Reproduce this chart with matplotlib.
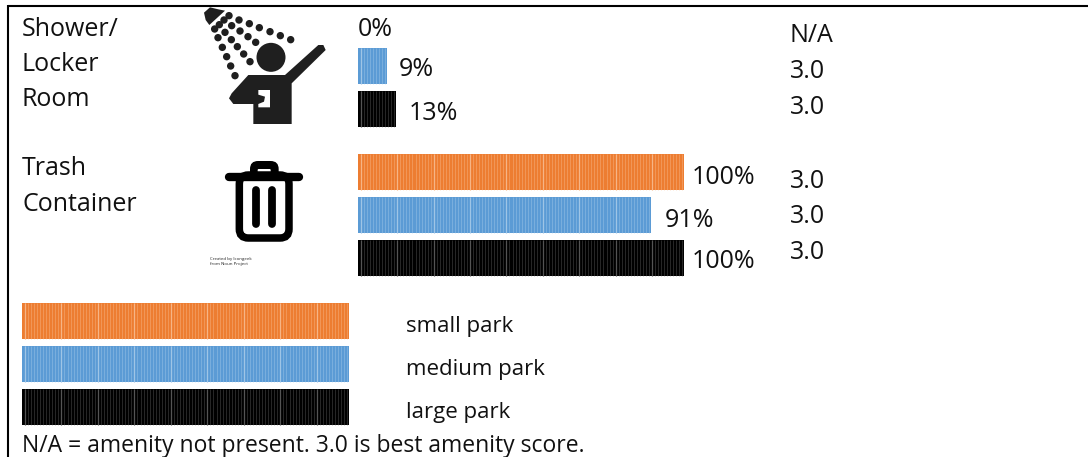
import numpy as np
import matplotlib
matplotlib.use("Agg")
import matplotlib.pyplot as plt
from matplotlib.patches import Circle, Polygon, FancyBboxPatch

plt.rcParams['font.family'] = ['Open Sans', 'DejaVu Sans']

# ---------- data ----------
amenities = ["Shower/\nLocker\nRoom", "Trash\nContainer"]
park_sizes = ["small park", "medium park", "large park"]
shower_lengths = [0, 8.9, 11.7]
trash_lengths = [100, 90, 100]
shower_labels = ["0%", "9%", "13%"]
trash_labels = ["100%", "91%", "100%"]
shower_scores = ["N/A", "3.0", "3.0"]
trash_scores = ["3.0", "3.0", "3.0"]
legend_lengths = [100, 100, 100]
footnote = "N/A = amenity not present. 3.0 is best amenity score."

colors = ["#ED7D31", "#5B9BD5", "#000000"]
stripe_colors = ["#F7B98C", "#A4C8E8", "#5A5A5A"]

W, H = 1088, 457
fig = plt.figure(figsize=(W / 100, H / 100), dpi=100, facecolor="white")

# overlay in pixel coordinates for page furniture, icons, and text
page = fig.add_axes([0, 0, 1, 1])
page.set_xlim(0, W)
page.set_ylim(H, 0)
page.axis("off")

FS = 18
TEXT = "#111111"


def bar_panel(left, width, top, lengths, labels=None, offsets=None):
    """Three stacked bars on a 0-100 scale."""
    pitch = 43
    ax = fig.add_axes([left / W, 1 - (top + 3 * pitch) / H, width / W, 3 * pitch / H])
    ax.set_xlim(0, 100)
    ax.set_ylim(2.5, -0.5)
    ax.axis("off")
    ax.patch.set_alpha(0)
    ypos = np.arange(len(lengths))
    ax.barh(ypos, lengths, height=36 / pitch, color=colors, linewidth=0)
    for y, length, sc in zip(ypos, lengths, stripe_colors):
        if length > 0:
            xs = np.arange(0.9, length, 0.93)
            ax.vlines(xs, y - 18 / pitch, y + 18 / pitch, color=sc, lw=0.55, alpha=0.55)
            ax.vlines(xs[::12], y - 18 / pitch, y + 18 / pitch, color=sc, lw=0.9, alpha=0.9)
    if labels:
        for y, length, lab, (dx, dy) in zip(ypos, lengths, labels, offsets):
            ax.annotate(lab, (length, y), xytext=(dx * 0.72, -dy * 0.72),
                        textcoords="offset points", va="center", ha="left",
                        fontsize=FS, color=TEXT, annotation_clip=False)
    return ax


bar_panel(358, 326, 1.5, shower_lengths, shower_labels, [(0, 6), (12, 4), (13, 5)])
bar_panel(358, 326, 150.5, trash_lengths, trash_labels, [(8, 6), (13, 6), (8, 4)])
bar_panel(22, 327, 299.5, legend_lengths)

# frame lines: top and left only
page.plot([7.5, W], [5.5, 5.5], color="black", lw=1.5, solid_capstyle="butt")
page.plot([7.5, 7.5], [5, H], color="black", lw=1.5, solid_capstyle="butt")

# row titles
for text, baselines in zip(amenities, [[36, 71, 106], [175, 211]]):
    for line, yb in zip(text.split("\n"), baselines):
        page.text(22, yb, line, fontsize=FS, color=TEXT, va="baseline", ha="left")

# scores
for vals, baselines in zip([shower_scores, trash_scores], [[42, 78, 114], [188, 223, 259]]):
    for v, yb in zip(vals, baselines):
        page.text(790, yb, v, fontsize=FS, color=TEXT, va="baseline", ha="left")

# legend labels
for name, yb in zip(park_sizes, [332, 375, 418]):
    page.text(406, yb, name, fontsize=16, color=TEXT, va="baseline", ha="left")

page.text(22, 452, footnote, fontsize=16.5, color=TEXT, va="baseline", ha="left")


# ---------- shower icon ----------
def sx(p):
    return [(190 + x / 3, y / 3) for x, y in p]


ICON = "#1f1f1f"
drops = [(117, 47), (147, 60), (178, 71), (208, 83), (240, 95), (271, 107), (302, 119),
         (102, 60), (125, 77), (150, 93), (174, 110), (197, 127),
         (88, 74), (105, 97), (124, 119), (142, 140), (161, 162), (180, 185),
         (74, 87), (84, 113), (97, 142), (110, 170), (122, 198), (135, 227)]
for (x, y) in sx(drops):
    page.add_patch(Circle((x, y), 3.7, color=ICON, lw=0))
page.add_patch(Polygon(sx([(42, 38), (60, 22), (85, 28), (105, 32), (58, 75), (47, 60)]),
                       closed=True, color=ICON, lw=0))
hx, hy = sx([(243, 172)])[0]
page.add_patch(Circle((hx, hy), 14.5, color=ICON, lw=0))
page.add_patch(Polygon(sx([(175, 225), (285, 225), (385, 135), (400, 135), (407, 150),
                           (305, 250), (305, 372), (190, 372), (190, 312), (130, 312),
                           (117, 295), (125, 280)]),
                       closed=True, color=ICON, lw=0))
page.add_patch(Polygon(sx([(205, 270), (240, 270), (240, 322), (205, 322), (205, 312),
                           (222, 305), (225, 290), (205, 284)]),
                       closed=True, color="white", lw=0))


# ---------- trash icon ----------
def tx(p):
    return [(190 + x / 3, 145 + y / 3) for x, y in p]


# handle: filled rounded block with a small slot
(hx0, hy0), (hx1, hy1) = tx([(180, 48), (266, 96)])
page.add_patch(FancyBboxPatch((hx0 + 6, hy0 + 6), hx1 - hx0 - 12, hy1 - hy0 - 6,
                              boxstyle="round,pad=6,rounding_size=8",
                              fc="black", ec="none", mutation_aspect=1))
(sx0, sy0), (sx1, sy1) = tx([(203, 72), (242, 84)])
page.add_patch(FancyBboxPatch((sx0, sy0), sx1 - sx0, sy1 - sy0,
                              boxstyle="round,pad=0,rounding_size=1", fc="white", ec="none"))
# can body
(bx0, by0), (bx1, by1) = tx([(148, 90), (297, 279)])
page.add_patch(FancyBboxPatch((bx0, by0), bx1 - bx0, by1 - by0,
                              boxstyle="round,pad=0,rounding_size=9",
                              fc="white", ec="black", lw=5.4))
# lid
(lx0, ly), (lx1, _) = tx([(117, 96), (328, 96)])
page.plot([lx0, lx1], [ly, ly], color="black", lw=6, solid_capstyle="round")
# inner bars
for xb in (198, 247):
    pts = tx([(xb, 135), (xb, 236)])
    page.plot(*zip(*pts), color="black", lw=5.6, solid_capstyle="round")
page.text(210, 259, "Created by Icongeek", fontsize=3.2, color="#222222", va="center", ha="left")
page.text(210, 264, "from Noun Project", fontsize=3.2, color="#222222", va="center", ha="left")

fig.savefig("out.png", dpi=100, facecolor="white")
